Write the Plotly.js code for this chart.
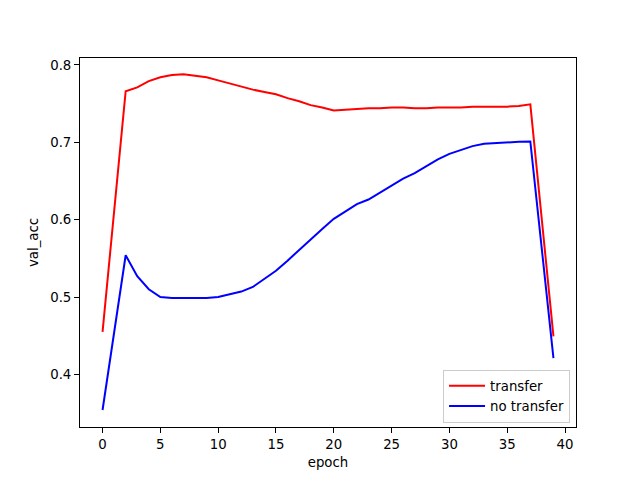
<!DOCTYPE html>
<html>
<head>
<meta charset="utf-8">
<script src="https://cdn.plot.ly/plotly-3.0.1.min.js"></script>
<style>html,body{margin:0;padding:0;background:#fff;}#chart{width:640px;height:480px;}</style>
</head>
<body>
<div id="chart"></div>
<script>
const epochs = [0,2,3,4,5,6,7,8,9,10,11,12,13,14,15,16,17,18,19,20,21,22,23,24,25,26,27,28,29,30,31,32,33,34,35,36,37,39];
const transfer = [0.455,0.766,0.771,0.779,0.784,0.787,0.788,0.786,0.784,0.780,0.776,0.772,0.768,0.765,0.762,0.757,0.753,0.748,0.745,0.741,0.742,0.743,0.744,0.744,0.745,0.745,0.744,0.744,0.745,0.745,0.745,0.746,0.746,0.746,0.746,0.747,0.749,0.449];
const noTransfer = [0.354,0.554,0.527,0.510,0.500,0.4987,0.4987,0.4987,0.4987,0.500,0.5035,0.507,0.513,0.523,0.534,0.547,0.561,0.575,0.588,0.601,0.610,0.620,0.626,0.635,0.644,0.653,0.660,0.669,0.678,0.685,0.690,0.695,0.698,0.699,0.700,0.7005,0.701,0.421];
const xTicks = [0,5,10,15,20,25,30,35,40];
const yTicks = [0.4,0.5,0.6,0.7,0.8];

const font = {family: 'DejaVu Sans, sans-serif', size: 13.3, color: '#000'};
const traces = [
  {x: epochs, y: transfer, type: 'scatter', mode: 'lines', name: 'transfer', line: {color: '#ff0000', width: 2}},
  {x: epochs, y: noTransfer, type: 'scatter', mode: 'lines', name: 'no transfer', line: {color: '#0000ff', width: 2}}
];
const axisBase = {showgrid: false, zeroline: false, showline: true, mirror: true, linecolor: '#000', linewidth: 1,
  ticks: 'outside', ticklen: 5, tickwidth: 1, tickcolor: '#000', tickfont: font};
const layout = {
  width: 640, height: 480,
  margin: {l: 80, r: 64, t: 58, b: 53, pad: 0},
  paper_bgcolor: '#fff', plot_bgcolor: '#fff',
  font: font,
  showlegend: true,
  legend: {x: 0.988, xanchor: 'right', y: 0.012, yanchor: 'bottom', bgcolor: 'rgba(255,255,255,0.8)',
    bordercolor: '#cccccc', borderwidth: 1, font: font, tracegroupgap: 0, itemwidth: 36},
  xaxis: Object.assign({}, axisBase, {range: [-1.95, 40.95], tickvals: xTicks, ticktext: xTicks.map(String),
    title: {text: 'epoch', font: font, standoff: 6}}),
  yaxis: Object.assign({}, axisBase, {range: [0.332, 0.8089], tickvals: yTicks, ticktext: yTicks.map(v => v.toFixed(1)),
    title: {text: 'val_acc', font: font, standoff: 8}})
};
Plotly.newPlot('chart', traces, layout, {displayModeBar: false, staticPlot: true});
</script>
</body>
</html>
